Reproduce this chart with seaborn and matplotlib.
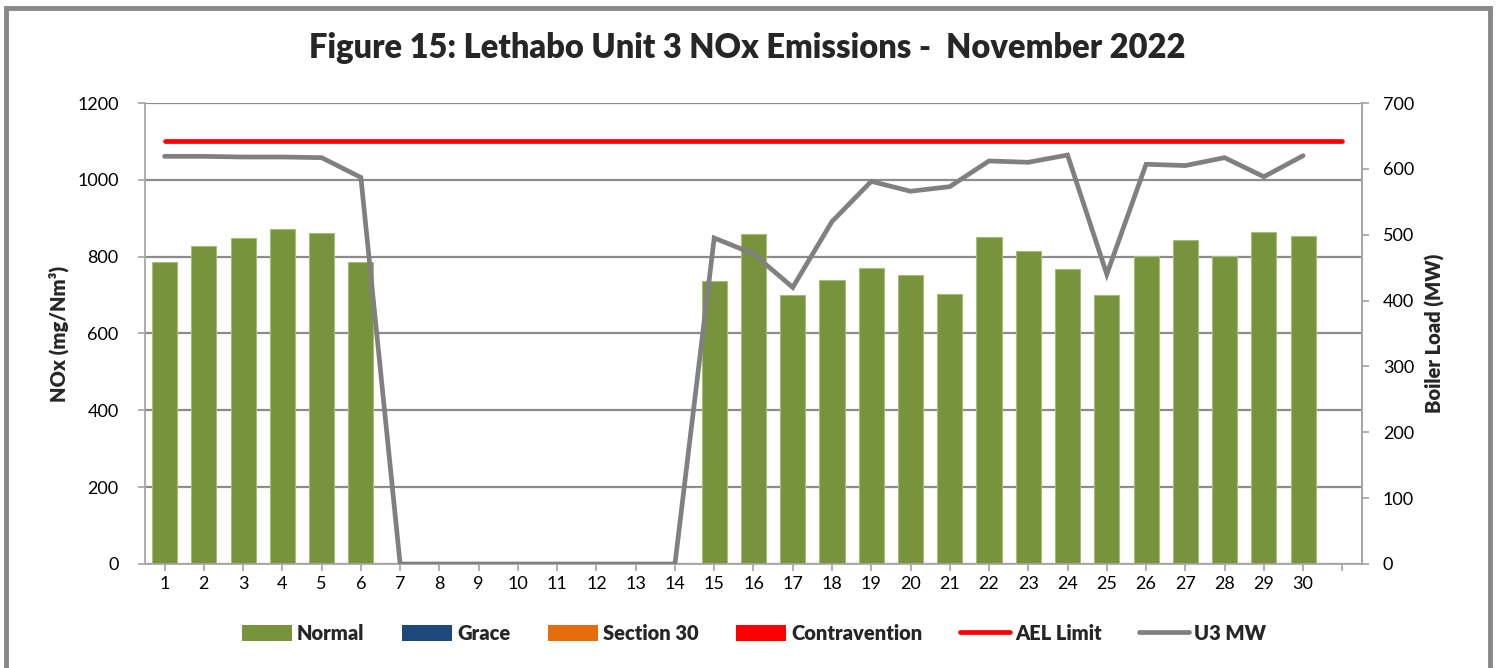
import numpy as np
import pandas as pd
import matplotlib
matplotlib.use("Agg")
import matplotlib.pyplot as plt
from matplotlib.patches import Patch, Rectangle
from matplotlib.lines import Line2D
import seaborn as sns

days = [str(d) for d in range(1, 32)]
tick_labels = [str(d) for d in range(1, 31)] + [""]
nox_normal = [786, 828, 849, 872, 861, 786, 0, 0, 0, 0, 0, 0, 0, 0,
              737, 858, 700, 739, 770, 753, 704, 850, 816, 769, 700,
              803, 843, 802, 864, 855, np.nan]
u3_mw = [619, 619, 618, 618, 617, 587, 0, 0, 0, 0, 0, 0, 0, 0,
         495, 471, 420, 520, 581, 566, 573, 612, 610, 621, 440,
         607, 605, 617, 588, 620]
ael_limit = [1100] * 31

sns.set_theme(style="white")
plt.rcParams["font.family"] = ["Lato", "DejaVu Sans"]

GREEN = "#77933C"
GRAY = "#808080"
GRID = "#8c8c8c"

fig = plt.figure(figsize=(14.99, 6.68), dpi=100)
ax = fig.add_axes([0.0967, 0.1557, 0.8119, 0.6901])

df = pd.DataFrame({"day": days, "nox": nox_normal})
sns.barplot(data=df, x="day", y="nox", order=days, color=GREEN, width=0.64,
            saturation=1, edgecolor="#a5bd78", linewidth=0.8, ax=ax, zorder=2)

pos = np.arange(len(days))
df_ael = pd.DataFrame({"x": pos, "y": ael_limit})
sns.lineplot(data=df_ael, x="x", y="y", color="#FF0000", linewidth=3.4, ax=ax,
             zorder=4, solid_capstyle="round")

ax.set_ylim(0, 1200)
ax.set_yticks(range(0, 1201, 200))
ax.set_xlim(-0.5, 30.5)
ax.set_xticks(pos)
ax.set_xticklabels(tick_labels)
ax.yaxis.grid(True, color=GRID, linewidth=1.6, zorder=0)
ax.set_axisbelow(True)
ax.spines["top"].set_visible(False)
for s in ["left", "bottom", "right"]:
    ax.spines[s].set_color("#a6a6a6")
    ax.spines[s].set_linewidth(1.3)
ax.tick_params(axis="both", which="both", length=5, color="#a6a6a6",
               labelsize=13, labelcolor="black", direction="out")
ax.tick_params(axis="y", pad=14)
ax.tick_params(axis="x", pad=4)
ax.yaxis.set_ticks_position("left")
ax.xaxis.set_ticks_position("bottom")
ax.set_xlabel("")
ax.set_ylabel("NOx (mg/Nm³)", fontsize=14.5, fontweight="heavy", labelpad=6)

ax2 = ax.twinx()
df_mw = pd.DataFrame({"x": pos[:30], "mw": u3_mw})
sns.lineplot(data=df_mw, x="x", y="mw", color=GRAY, linewidth=3.4, ax=ax2,
             solid_capstyle="round", solid_joinstyle="miter")
ax2.set_ylim(0, 700)
ax2.set_yticks(range(0, 701, 100))
ax2.set_xlim(-0.5, 30.5)
ax2.grid(False)
for s in ["top", "left", "bottom"]:
    ax2.spines[s].set_visible(False)
ax2.spines["right"].set_color("#a6a6a6")
ax2.spines["right"].set_linewidth(1.3)
ax2.tick_params(axis="y", length=5, color="#a6a6a6", labelsize=13,
                labelcolor="black", direction="out", pad=10)
ax2.set_ylabel("Boiler Load (MW)", fontsize=14.5, fontweight="heavy", labelpad=8)
ax2.set_xlabel("")

fig.text(0.4985, 0.928, "Figure 15: Lethabo Unit 3 NOx Emissions -  November 2022",
         ha="center", va="center", fontsize=23.5, fontweight="heavy")

handles = [
    Patch(facecolor=GREEN, edgecolor="none", label="Normal"),
    Patch(facecolor="#1F497D", edgecolor="none", label="Grace"),
    Patch(facecolor="#E46C0A", edgecolor="none", label="Section 30"),
    Patch(facecolor="#FF0000", edgecolor="none", label="Contravention"),
    Line2D([0], [0], color="#FF0000", linewidth=3.4, label="AEL Limit"),
    Line2D([0], [0], color=GRAY, linewidth=3.4, label="U3 MW"),
]
fig.legend(handles=handles, loc="center", bbox_to_anchor=(0.503, 0.052), ncol=6,
           frameon=False, prop={"weight": "heavy", "size": 14.5},
           handlelength=2.5, handleheight=0.85, handletextpad=0.25, columnspacing=1.85)

border = Rectangle((0.004, -0.05), 0.990, 1.038, transform=fig.transFigure,
                   fill=False, edgecolor="#888888", linewidth=3.5, zorder=10)
fig.patches.append(border)

fig.savefig("out.png", dpi=100, facecolor="white")
